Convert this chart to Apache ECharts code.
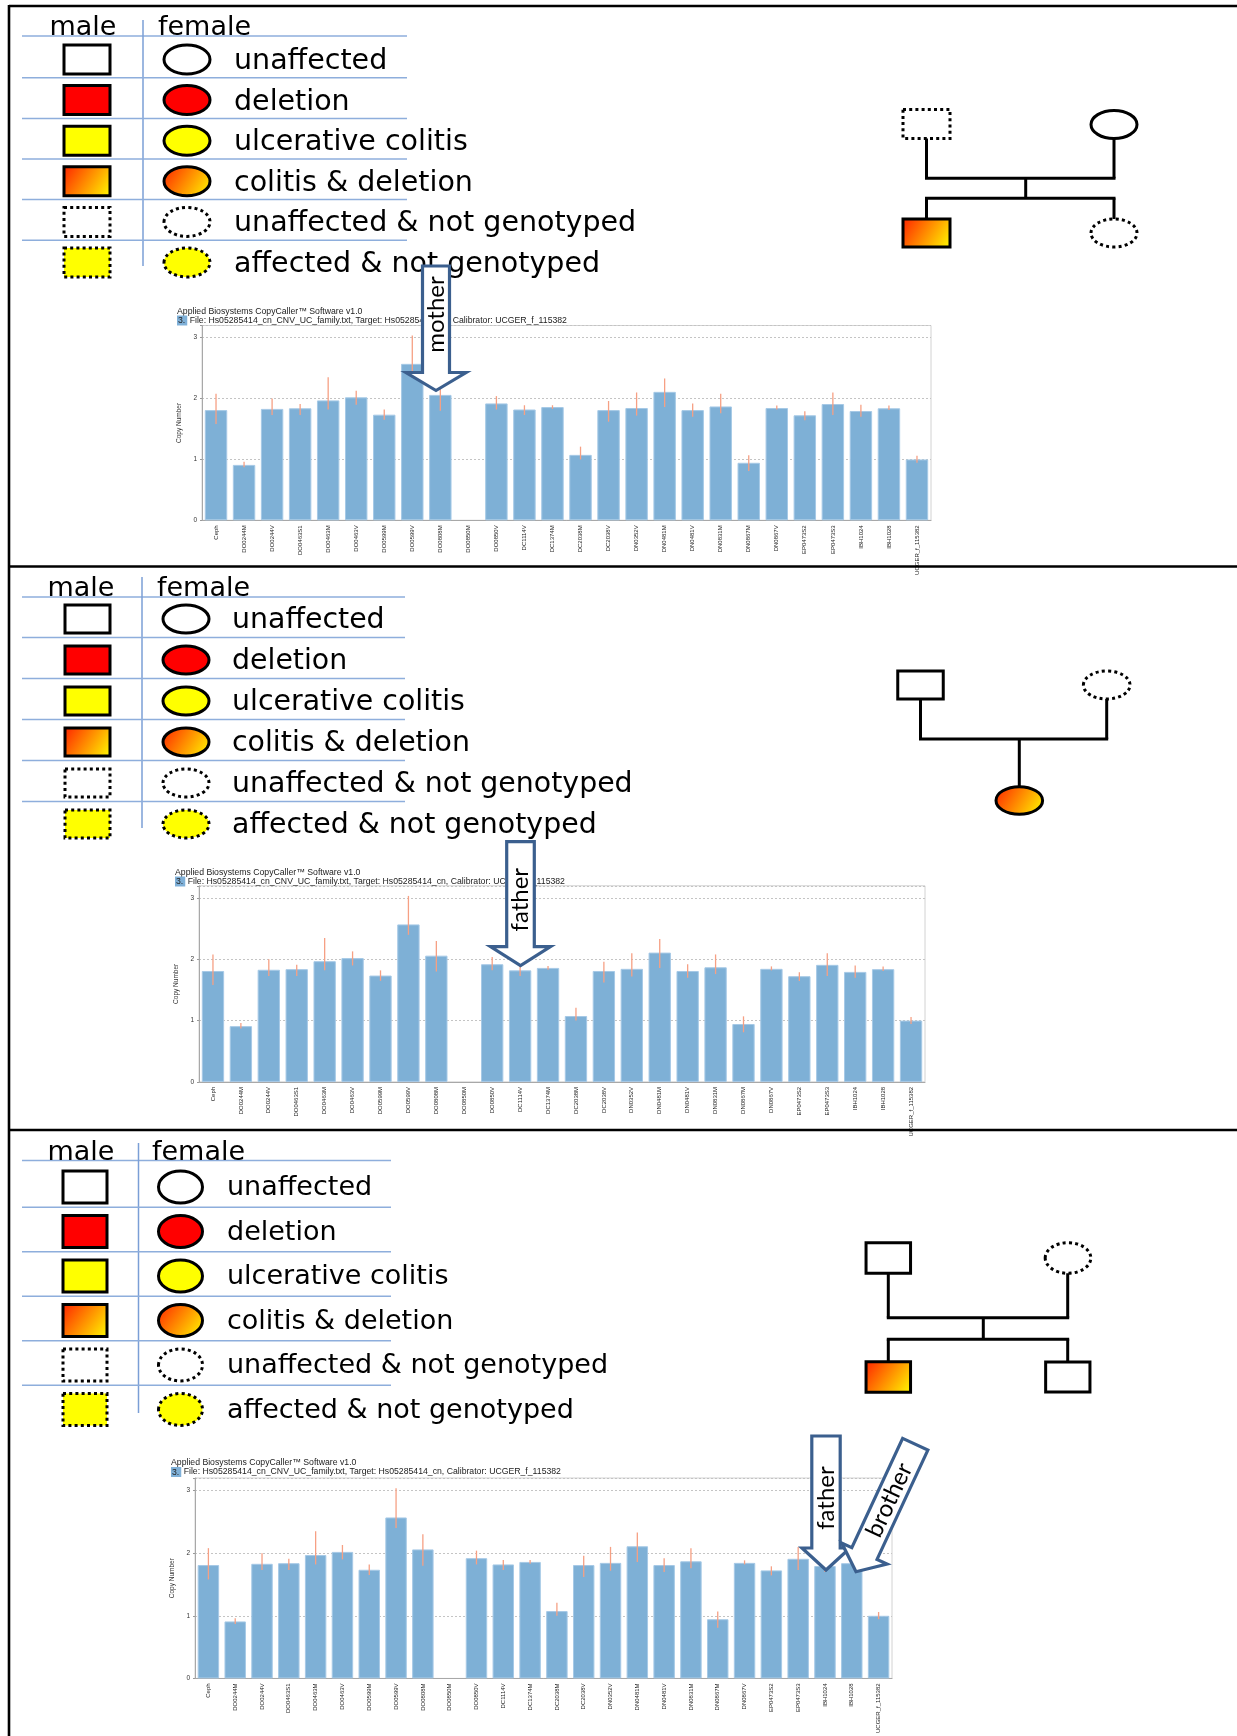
<!DOCTYPE html>
<html>
<head>
<meta charset="utf-8">
<script src="https://cdn.jsdelivr.net/npm/echarts@6/dist/echarts.min.js"></script>
<style>
  html, body { margin: 0; padding: 0; background: #ffffff; }
  #main { width: 1237px; height: 1736px; }
</style>
</head>
<body>
<div id="main"></div>
<script>
// ---- Copy-number data (CopyCaller, assay Hs05285414_cn) ----
const categories = ['Ceph', 'DO0244M', 'DO0244V', 'DO0463S1', 'DO0463M', 'DO0463V', 'DO0599M',
  'DO0599V', 'DO0808M', 'DO0850M', 'DO0850V', 'DC1114V', 'DC1374M', 'DC2038M', 'DC2038V',
  'DN0352V', 'DN0481M', 'DN0481V', 'DN0831M', 'DN0867M', 'DN0867V', 'EP0473S2', 'EP0473S3',
  'IBH1024', 'IBH1028', 'UCGER_f_115382'];
const copyNumber = [1.81, 0.91, 1.83, 1.84, 1.97, 2.02, 1.735, 2.57, 2.06, null, 1.92, 1.82, 1.86,
  1.075, 1.81, 1.845, 2.11, 1.81, 1.87, 0.945, 1.845, 1.725, 1.91, 1.795, 1.84, 1.0];
const errLow = [1.58, 0.87, 1.73, 1.73, 1.82, 1.90, 1.65, 2.40, 1.80, null, 1.82, 1.73, 1.83,
  1.00, 1.62, 1.72, 1.86, 1.70, 1.76, 0.81, 1.82, 1.645, 1.73, 1.70, 1.81, 0.945];
const errHigh = [2.08, 0.96, 2.00, 1.91, 2.35, 2.13, 1.82, 3.035, 2.30, null, 2.04, 1.89, 1.89,
  1.21, 1.96, 2.10, 2.33, 1.92, 2.08, 1.07, 1.885, 1.79, 2.10, 1.90, 1.885, 1.06];
const yTickValues = [0, 1, 2, 3];

// ---- Text content ----
const sexHeaders = ['male', 'female'];
const legendLabels = ['unaffected', 'deletion', 'ulcerative colitis', 'colitis & deletion',
  'unaffected & not genotyped', 'affected & not genotyped'];
const legendStatus = ['plain', 'deletion', 'colitis', 'both', 'untyped', 'affectedUntyped'];
const softwareLine = 'Applied Biosystems CopyCaller\u2122 Software v1.0';
const fileLine = 'File: Hs05285414_cn_CNV_UC_family.txt, Target: Hs05285414_cn, Calibrator: UCGER_f_115382';
const arrowLabels = ['mother', 'father', 'father', 'brother'];

// ---- drawing helpers ----
const INK = '#000000';
const RULE = '#8eaedc';
const ARROW = '#3b5f8e';
const gradientFill = () => ({
  type: 'linear', x: 0, y: 0, x2: 1, y2: 1,
  colorStops: [{ offset: 0, color: '#ff1e00' }, { offset: 1, color: '#ffff00' }]
});
function statusStyle(status) {
  const s = { stroke: INK, lineWidth: 3, fill: '#ffffff' };
  if (status === 'deletion') s.fill = '#ff0000';
  if (status === 'colitis') s.fill = '#ffff00';
  if (status === 'both') s.fill = gradientFill();
  if (status === 'untyped' || status === 'affectedUntyped') { s.lineDash = [3, 3.2]; }
  if (status === 'affectedUntyped') s.fill = '#ffff00';
  return s;
}
function square(cx, cy, w, h, status) {
  return { type: 'rect', z: 10, shape: { x: cx - w / 2, y: cy - h / 2, width: w, height: h }, style: statusStyle(status) };
}
function oval(cx, cy, rx, ry, status) {
  return { type: 'ellipse', z: 10, shape: { cx: cx, cy: cy, rx: rx, ry: ry }, style: statusStyle(status) };
}
function seg(x1, y1, x2, y2, color, width) {
  return { type: 'line', z: 5, shape: { x1: x1, y1: y1, x2: x2, y2: y2 }, style: { stroke: color, lineWidth: width } };
}
function label(x, y, txt, size, family, align) {
  return { type: 'text', z: 12, x: x, y: y,
    style: { text: txt, fontSize: size, fontFamily: family, fill: '#000', align: align, verticalAlign: 'middle',
      textAlign: align, textVerticalAlign: 'middle' } };
}

function legendBlock(p) {
  const els = [];
  els.push(label(p.maleX, p.headY, sexHeaders[0], p.headFont, 'DejaVu Sans', 'center'));
  els.push(label(p.femaleX, p.headY, sexHeaders[1], p.headFont, 'DejaVu Sans', 'left'));
  els.push(seg(p.x1, p.ulY, p.x2, p.ulY, RULE, 1.5));
  els.push(seg(p.vX, p.vY1, p.vX, p.vY2, '#7b9fd6', 1.5));
  legendLabels.forEach(function (txt, i) {
    const cy = p.row0 + i * p.step;
    els.push(square(p.sqX + p.sqW / 2, cy + 1, p.sqW, p.sqH, legendStatus[i]));
    els.push(oval(p.cX, cy + 1, p.rx, p.ry, legendStatus[i]));
    els.push(label(p.tX, cy + p.textDy, txt, p.font, 'DejaVu Sans', 'left'));
    if (i < legendLabels.length - 1) {
      const ly = cy + p.step / 2 - 1;
      els.push(seg(p.x1, ly, p.x2, ly, RULE, 1.5));
    }
  });
  return els;
}

function blockArrow(tipX, tipY, len, halfShaft, halfHead, headLen, rot, txt, txtOffset, txtSize) {
  const pts = [[-halfShaft, -len], [halfShaft, -len], [halfShaft, -headLen], [halfHead, -headLen],
    [0, 0], [-halfHead, -headLen], [-halfShaft, -headLen]];
  return {
    type: 'group', x: tipX, y: tipY, rotation: rot, z: 50,
    children: [
      { type: 'polygon', z: 50, shape: { points: pts }, style: { fill: '#ffffff', stroke: ARROW, lineWidth: 3.2, lineJoin: 'miter' } },
      { type: 'text', z: 51, x: 0, y: -txtOffset, rotation: Math.PI / 2,
        style: { text: txt, fontSize: txtSize, fontFamily: 'Lato', fill: '#000', align: 'center', verticalAlign: 'middle',
          textAlign: 'center', textVerticalAlign: 'middle' } }
    ]
  };
}

function chartHeading(x, y1, y2) {
  return [
    { type: 'text', z: 12, x: x, y: y1, style: { text: softwareLine, fontSize: 8.7, fontFamily: 'Liberation Sans', fill: '#222',
        align: 'left', verticalAlign: 'middle', textAlign: 'left', textVerticalAlign: 'middle' } },
    { type: 'text', z: 12, x: x, y: y2, style: { text: '{n|3.} ' + fileLine, fontSize: 8.7, fontFamily: 'Liberation Sans', fill: '#222',
        align: 'left', verticalAlign: 'middle', textAlign: 'left', textVerticalAlign: 'middle',
        rich: { n: { backgroundColor: '#7fb0d8', fontSize: 8.7, fontFamily: 'Liberation Sans', fill: '#222', padding: [1, 2, 0, 1] } } } }
  ];
}

// ---- page frame ----
const graphics = [];
graphics.push(seg(9, 6, 1237, 6, INK, 2.6));
graphics.push(seg(9, 5, 9, 1736, INK, 2.6));
graphics.push(seg(9, 566.5, 1237, 566.5, INK, 2.6));
graphics.push(seg(9, 1130, 1237, 1130, INK, 2.6));

// ---- legends ----
graphics.push.apply(graphics, legendBlock({ maleX: 83, femaleX: 158, headY: 28, headFont: 27, ulY: 36, row0: 58.5, step: 40.6, textDy: 3,
  x1: 22, x2: 407, vX: 143, vY1: 20, vY2: 266, sqX: 64, sqW: 46, sqH: 29, cX: 187, rx: 23, ry: 14.5, tX: 234, font: 28.5 }));
graphics.push.apply(graphics, legendBlock({ maleX: 81, femaleX: 157, headY: 589, headFont: 27, ulY: 597, row0: 618, step: 41, textDy: 3,
  x1: 22, x2: 405, vX: 142, vY1: 577, vY2: 828, sqX: 65, sqW: 45, sqH: 28, cX: 186, rx: 23, ry: 14, tX: 232, font: 28.4 }));
graphics.push.apply(graphics, legendBlock({ maleX: 81, femaleX: 152, headY: 1153, headFont: 27, ulY: 1160.5, row0: 1186, step: 44.5, textDy: 2,
  x1: 22, x2: 391, vX: 138.5, vY1: 1143, vY2: 1413, sqX: 63, sqW: 44, sqH: 32, cX: 180.5, rx: 22, ry: 16, tX: 227, font: 27 }));

// ---- pedigree 1: untyped father, mother, affected son with deletion, untyped daughter ----
graphics.push(seg(926.5, 138, 926.5, 178.3, INK, 3));
graphics.push(seg(1114, 138, 1114, 178.3, INK, 3));
graphics.push(seg(925, 178.3, 1115.5, 178.3, INK, 3));
graphics.push(seg(1025.7, 178.3, 1025.7, 198.3, INK, 3));
graphics.push(seg(925, 198.3, 1115.5, 198.3, INK, 3));
graphics.push(seg(926.5, 198.3, 926.5, 219, INK, 3));
graphics.push(seg(1114, 198.3, 1114, 219, INK, 3));
graphics.push(square(926.5, 124, 47, 29, 'untyped'));
graphics.push(oval(1114, 124.5, 23, 14, 'plain'));
graphics.push(square(926.5, 233, 47, 28, 'both'));
graphics.push(oval(1114, 233, 23, 14, 'untyped'));

// ---- pedigree 2: father, untyped mother, affected daughter with deletion ----
graphics.push(seg(920.5, 699, 920.5, 739, INK, 3));
graphics.push(seg(1106.7, 699, 1106.7, 739, INK, 3));
graphics.push(seg(919, 739, 1108.2, 739, INK, 3));
graphics.push(seg(1019.3, 739, 1019.3, 787, INK, 3));
graphics.push(square(920.5, 685, 45.5, 28, 'plain'));
graphics.push(oval(1106.7, 685, 23.3, 14, 'untyped'));
graphics.push(oval(1019.3, 800.5, 23.3, 13.7, 'both'));

// ---- pedigree 3: father, untyped mother, affected son with deletion, brother ----
graphics.push(seg(888.3, 1273, 888.3, 1317.7, INK, 3));
graphics.push(seg(1067.7, 1273, 1067.7, 1317.7, INK, 3));
graphics.push(seg(886.8, 1317.7, 1069.2, 1317.7, INK, 3));
graphics.push(seg(983.3, 1317.7, 983.3, 1339.3, INK, 3));
graphics.push(seg(886.8, 1339.3, 1069.2, 1339.3, INK, 3));
graphics.push(seg(888.3, 1339.3, 888.3, 1362, INK, 3));
graphics.push(seg(1067.7, 1339.3, 1067.7, 1362, INK, 3));
graphics.push(square(888.3, 1258, 44.5, 30.6, 'plain'));
graphics.push(oval(1068, 1258, 22.8, 15.3, 'untyped'));
graphics.push(square(888.3, 1377, 44.5, 30.6, 'both'));
graphics.push(square(1067.8, 1377, 44.3, 30, 'plain'));

// ---- software headings ----
graphics.push.apply(graphics, chartHeading(177, 312, 320.5));
graphics.push.apply(graphics, chartHeading(175, 872.6, 881.5));
graphics.push.apply(graphics, chartHeading(171, 1463, 1472));

// ---- callout arrows ----
graphics.push(blockArrow(436, 390.5, 124.5, 13.5, 30, 18, 0, arrowLabels[0], 76, 24));
graphics.push(blockArrow(520.5, 965.7, 124, 13.8, 30, 19, 0, arrowLabels[1], 66, 24));
graphics.push(blockArrow(826, 1570, 134, 14.2, 24, 22, 0, arrowLabels[2], 72, 24));
graphics.push(blockArrow(856, 1571.7, 140.6, 13.9, 25, 20, -0.435, arrowLabels[3], 79, 24));

// ---- three copy-number panels ----
const grids = [
  { left: 202, top: 325.5, width: 729, height: 194.8 },
  { left: 199, top: 885.8, width: 726, height: 196.1 },
  { left: 195, top: 1478, width: 697, height: 213.3 }
];
const option = {
  animation: false,
  backgroundColor: '#ffffff',
  graphic: { elements: graphics },
  grid: grids.map(g => Object.assign({ show: true, borderColor: '#d2d2d2', borderWidth: 1, backgroundColor: 'transparent' }, g)),
  xAxis: grids.map((g, i) => ({
    type: 'category', gridIndex: i, data: categories,
    axisLine: { lineStyle: { color: '#a8a8a8', width: 1 } },
    axisTick: { show: false },
    axisLabel: { interval: 0, rotate: 90, fontSize: 6, fontFamily: 'Liberation Sans', color: '#222', margin: 5 }
  })),
  yAxis: grids.map((g, i) => ({
    type: 'value', gridIndex: i, min: 0, max: 3.2, interval: 1,
    name: 'Copy Number', nameLocation: 'middle', nameGap: 16,
    nameTextStyle: { fontSize: 6.5, fontFamily: 'Liberation Sans', color: '#333' },
    axisLine: { show: true, lineStyle: { color: '#a8a8a8', width: 1 } },
    axisTick: { show: true, length: 2, lineStyle: { color: '#999' } },
    axisLabel: { fontSize: 6.5, fontFamily: 'Liberation Sans', color: '#333', margin: 5,
      formatter: v => (yTickValues.indexOf(v) >= 0 ? String(v) : '') },
    splitLine: { show: true, lineStyle: { color: '#c4c4c4', type: [2, 2], width: 1 } }
  })),
  series: []
};
const errData = [];
categories.forEach((c, i) => { if (errLow[i] != null) errData.push([i, errLow[i], errHigh[i]]); });
grids.forEach((g, i) => {
  option.series.push({
    type: 'bar', xAxisIndex: i, yAxisIndex: i, data: copyNumber, barCategoryGap: '20%',
    itemStyle: { color: '#7eb0d6', borderColor: '#a6c9e6', borderWidth: 1 }, z: 2
  });
  option.series.push({
    type: 'custom', xAxisIndex: i, yAxisIndex: i, data: errData, z: 3,
    renderItem: function (params, api) {
      const lo = api.coord([api.value(0), api.value(1)]);
      const hi = api.coord([api.value(0), api.value(2)]);
      return { type: 'line', shape: { x1: lo[0], y1: lo[1], x2: hi[0], y2: hi[1] },
        style: { stroke: '#f6a084', lineWidth: 1.3 } };
    }
  });
});

const chart = echarts.init(document.getElementById('main'), null, { renderer: 'canvas' });
chart.setOption(option);
</script>
</body>
</html>
